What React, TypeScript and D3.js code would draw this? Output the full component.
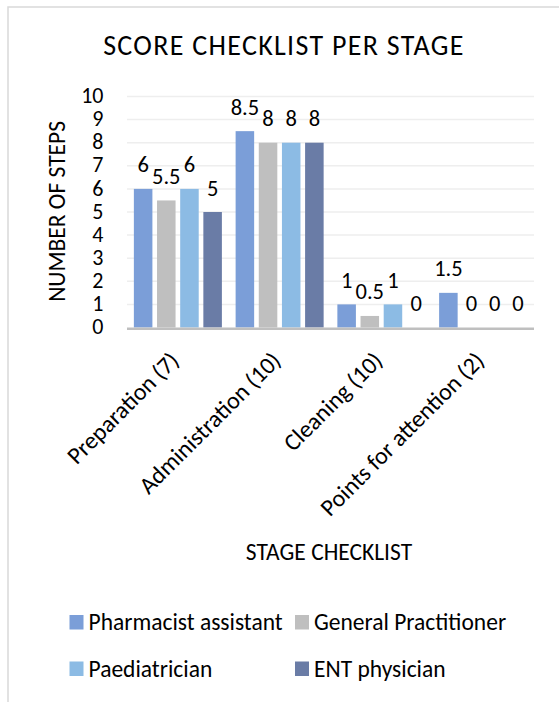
import React from "react";
import * as d3 from "d3";

const categories = ["Preparation (7)", "Administration (10)", "Cleaning (10)", "Points for attention (2)"];
const seriesNames = ["Pharmacist assistant", "General Practitioner", "Paediatrician", "ENT physician"];
const pharmacistAssistant = [6, 8.5, 1, 1.5];
const generalPractitioner = [5.5, 8, 0.5, 0];
const paediatrician = [6, 8, 1, 0];
const entPhysician = [5, 8, 0, 0];
const seriesValues = [pharmacistAssistant, generalPractitioner, paediatrician, entPhysician];
const yTicks = [0, 1, 2, 3, 4, 5, 6, 7, 8, 9, 10];
const colors = ["#7b9ed8", "#bfbfbf", "#8cbbe4", "#6a7ca6"];

const FONT = "Carlito, Calibri, Lato, sans-serif";

export default function App() {
  const W = 559;
  const H = 702;
  const x0 = d3.scaleBand<string>().domain(categories).range([127, 534]).paddingInner(0.135).paddingOuter(0.0675);
  const x1 = d3.scaleBand<string>().domain(seriesNames).range([0, x0.bandwidth()]).paddingInner(0.2).paddingOuter(0);
  const y = d3.scaleLinear().domain([0, 10]).range([327.5, 96.5]);

  return (
    <svg width={W} height={H} style={{ position: "absolute", left: 0, top: 0, background: "#fff" }} fontFamily={FONT}>
      <rect x={8} y={7} width={W + 20} height={H + 20} fill="#fff" stroke="#d9d9d9" strokeWidth={1.5} />
      <text x={284} y={54.5} textAnchor="middle" fontSize={28} letterSpacing={1.3} fill="#000">SCORE CHECKLIST PER STAGE</text>
      {yTicks.map((t) => (
        <g key={t}>
          {t > 0 && <line x1={127} x2={534} y1={y(t)} y2={y(t)} stroke="#eeeeee" strokeWidth={1.5} />}
          <text x={103.5} y={y(t)} dy="0.3em" textAnchor="end" fontSize={22} fill="#000">{t}</text>
        </g>
      ))}
      {categories.map((c, ci) => (
        <g key={c} transform={`translate(${x0(c)},0)`}>
          {seriesNames.map((s, si) => {
            const v = seriesValues[si][ci];
            const bx = x1(s)!;
            return (
              <g key={s}>
                {v > 0 && <rect x={bx} y={y(v)} width={x1.bandwidth()} height={y(0) - y(v)} fill={colors[si]} />}
                <text x={bx + x1.bandwidth() / 2} y={y(v) - 16.5} textAnchor="middle" fontSize={22.5} fill="#000">{v}</text>
              </g>
            );
          })}
        </g>
      ))}
      <line x1={127} x2={534} y1={y(0) + 1.2} y2={y(0) + 1.2} stroke="#bfbfbf" strokeWidth={2.6} />
      {categories.map((c) => {
        const cx = x0(c)! + x0.bandwidth() / 2;
        return (
          <text key={c} transform={`translate(${cx + 2.5},${362}) rotate(-45)`} textAnchor="end" fontSize={24} fill="#000">{c}</text>
        );
      })}
      <text transform={`translate(65,211.4) rotate(-90)`} textAnchor="middle" fontSize={23.5} fill="#000">NUMBER OF STEPS</text>
      <text x={329} y={560} textAnchor="middle" fontSize={23.5} fill="#000">STAGE CHECKLIST</text>
      {seriesNames.map((s, i) => {
        const col = i % 2;
        const row = Math.floor(i / 2);
        const lx = col === 0 ? 69.5 : 295;
        const ly = row === 0 ? 630 : 676.5;
        return (
          <g key={s}>
            <rect x={lx} y={ly - 15} width={14} height={14.5} fill={colors[i]} />
            <text x={lx + 19} y={ly} fontSize={23.5} fill="#000">{s}</text>
          </g>
        );
      })}
    </svg>
  );
}
